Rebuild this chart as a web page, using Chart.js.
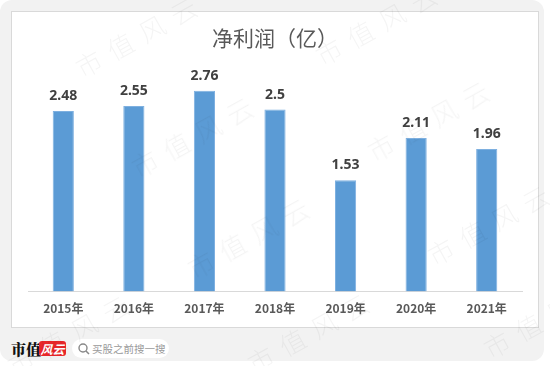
<!DOCTYPE html>
<html>
<head>
<meta charset="utf-8">
<script src="https://cdn.jsdelivr.net/npm/chart.js@4"></script>
<style>
  html, body { margin: 0; padding: 0; background: #ffffff; }
  body { width: 550px; height: 366px; position: relative; overflow: hidden; font-family: "Noto Sans CJK SC", "Noto Sans", sans-serif; }
  #frame { position: absolute; left: 0; top: 0; width: 544px; height: 361px; background: #f2f2f2; border-radius: 12px; }
  #card { position: absolute; left: 11px; top: 11px; width: 526px; height: 315px; background: #ffffff; border: 1px solid #d9d9d9; }
  #chartwrap { position: absolute; left: 0; top: 0; width: 526px; height: 315px; }
  .wm { position: absolute; white-space: nowrap; font-size: 26px; letter-spacing: 10px; color: rgba(0,0,0,0.045); transform: translate(-50%,-50%) rotate(-29deg); pointer-events: none; font-weight: 300; }
  #brand { position: absolute; left: 11px; top: 339px; font-family: "Noto Serif CJK SC", "Noto Sans CJK SC", serif; font-weight: 900; font-size: 15px; color: #111; line-height: 20px; }
  #logo { position: absolute; left: 39px; top: 341px; width: 27px; height: 15px; background: #e8262a; border-radius: 3px; color: #fff; font-size: 12px; font-style: italic; line-height: 15px; text-align: center; font-weight: bold; }
  #search { position: absolute; left: 72px; top: 339px; width: 97px; height: 19px; background: #fff; border-radius: 10px; }
  #search svg { position: absolute; left: 6px; top: 4px; }
  #search span { position: absolute; left: 20px; top: 0; font-size: 10.5px; line-height: 19px; color: #9a9a9a; }
</style>
</head>
<body>
<div id="frame"></div>
<div id="card"><div id="chartwrap"><canvas id="c" width="526" height="315"></canvas></div></div>
<div id="brand">市值</div>
<div id="logo">风云</div>
<div id="search"><svg width="12" height="12" viewBox="0 0 12 12"><circle cx="5" cy="5" r="4" fill="none" stroke="#888" stroke-width="1.4"/><line x1="8" y1="8" x2="11" y2="11" stroke="#888" stroke-width="1.5"/></svg><span>买股之前搜一搜</span></div>
<div class="wm" style="left:140px;top:34px">市值风云</div>
<div class="wm" style="left:380px;top:22px">市值风云</div>
<div class="wm" style="left:196px;top:134px">市值风云</div>
<div class="wm" style="left:432px;top:118px">市值风云</div>
<div class="wm" style="left:252px;top:235px">市值风云</div>
<div class="wm" style="left:492px;top:222px">市值风云</div>
<div class="wm" style="left:72px;top:332px">市值风云</div>
<div class="wm" style="left:312px;top:330px">市值风云</div>
<div class="wm" style="left:548px;top:315px">市值风云</div>
<script>
const categories = ["2015年", "2016年", "2017年", "2018年", "2019年", "2020年", "2021年"];
const profit = [2.48, 2.55, 2.76, 2.5, 1.53, 2.11, 1.96];
const titleText = "净利润（亿）";

const labelPlugin = {
  id: 'barLabels',
  afterDatasetsDraw(chart) {
    const ctx = chart.ctx;
    const meta = chart.getDatasetMeta(0);
    ctx.save();
    ctx.font = 'bold 14px "Noto Sans", "Liberation Sans", sans-serif';
    ctx.fillStyle = '#404040';
    ctx.textAlign = 'center';
    ctx.textBaseline = 'middle';
    meta.data.forEach((el, i) => {
      ctx.fillText(String(chart.data.datasets[0].data[i]), el.x, el.y - 15);
    });
    ctx.restore();
  }
};

new Chart(document.getElementById('c'), {
  type: 'bar',
  data: {
    labels: categories,
    datasets: [{
      data: profit,
      backgroundColor: '#5b9bd5',
      borderColor: '#7eb0e0',
      borderWidth: 1,
      barPercentage: 0.3,
      categoryPercentage: 1.0
    }]
  },
  options: {
    responsive: false,
    animation: false,
    devicePixelRatio: 1,
    layout: { padding: { left: 16, right: 16, top: 0, bottom: 1 } },
    plugins: {
      legend: { display: false },
      tooltip: { enabled: false },
      title: {
        display: true,
        text: titleText,
        color: '#595959',
        font: { family: '"Noto Sans CJK SC", sans-serif', size: 21, weight: 'normal', lineHeight: 1.2 },
        padding: { top: 13, bottom: 23 }
      }
    },
    scales: {
      x: {
        grid: { display: false, drawTicks: false },
        border: { display: true, color: '#d9d9d9', width: 1 },
        ticks: { color: '#595959', padding: 10, font: { family: '"Noto Sans CJK SC", sans-serif', size: 12, weight: 'bold' } }
      },
      y: {
        display: false,
        min: 0,
        max: 3
      }
    }
  },
  plugins: [labelPlugin]
});
</script>
</body>
</html>
